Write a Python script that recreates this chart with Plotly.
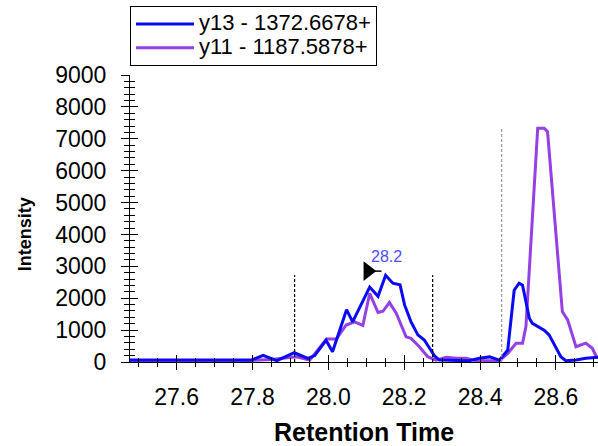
import plotly.graph_objects as go

# ---- data ----
y13_rt = [27.477, 27.52, 27.56, 27.60, 27.64, 27.68, 27.72, 27.76, 27.797, 27.828, 27.864, 27.910,
          27.946, 27.964, 27.994, 28.011, 28.048, 28.064, 28.109, 28.131, 28.151, 28.170, 28.189,
          28.201, 28.218, 28.236, 28.253, 28.267, 28.280, 28.293, 28.319, 28.346, 28.372, 28.398,
          28.425, 28.451, 28.473, 28.490, 28.503, 28.512, 28.530, 28.538, 28.569, 28.582, 28.613,
          28.626, 28.653, 28.679, 28.705, 28.711]
y13_int = [60, 60, 60, 60, 60, 60, 60, 60, 60, 210, 40, 290,
           110, 200, 680, 320, 1640, 1260, 2350, 2060, 2720, 2470, 2420,
           1790, 1260, 850, 690, 430, 190, 60, 50, 40, 40, 115,
           160, 60, 375, 2250, 2470, 2410, 1370, 1210, 1000, 850, 165,
           40, 60, 115, 150, 150]

y11_rt = [27.477, 27.60, 27.70, 27.80, 27.85, 27.916, 27.951, 27.995, 28.021, 28.047, 28.069,
          28.091, 28.109, 28.131, 28.144, 28.161, 28.179, 28.205, 28.218, 28.240, 28.262,
          28.284, 28.311, 28.337, 28.363, 28.389, 28.424, 28.451, 28.473, 28.495, 28.512,
          28.521, 28.552, 28.569, 28.578, 28.617, 28.631, 28.653, 28.679, 28.696, 28.707]
y11_int = [20, 20, 30, 50, 80, 165, 60, 720, 720, 1160, 1260,
           1150, 2150, 1550, 1590, 1870, 1530, 790, 740, 480, 165,
           60, 150, 115, 120, 40, 50, 40, 270, 590, 590,
           1110, 7330, 7330, 7220, 1580, 1320, 480, 590, 430, 165]

series_names = ["y13 - 1372.6678+", "y11 - 1187.5878+"]

boundary_rt = [27.911, 28.275]
boundary_top = 2730
other_boundary_rt = 28.457
other_boundary_top = 7330

peak_label = "28.2"
peak_label_rt = 28.154
peak_label_int = 3320
marker_rt = [28.104, 28.140]
marker_int = 2850

x_range = [27.477, 28.711]
y_range = [0, 9000]

FONT = "Liberation Sans, Arial, sans-serif"
BLUE = "#0a0af5"
PURPLE = "#9440e4"


def legend_label(name):
    return "<span style='font-size:22px'>" + name + "</span>"


fig = go.Figure()

fig.add_trace(go.Scatter(x=y11_rt, y=y11_int, mode="lines", name=legend_label(series_names[1]),
                         line=dict(color=PURPLE, width=3)))
fig.add_trace(go.Scatter(x=y13_rt, y=y13_int, mode="lines", name=legend_label(series_names[0]),
                         line=dict(color=BLUE, width=3)))

for rt in boundary_rt:
    fig.add_trace(go.Scatter(x=[rt, rt], y=[0, boundary_top], mode="lines", showlegend=False,
                             line=dict(color="black", width=1.2, dash="3px,2px"), hoverinfo="skip"))
fig.add_trace(go.Scatter(x=[other_boundary_rt, other_boundary_rt], y=[0, other_boundary_top],
                         mode="lines", showlegend=False,
                         line=dict(color="#999999", width=1.2, dash="3px,2px"), hoverinfo="skip"))

# peak marker (flag)
fig.add_trace(go.Scatter(x=marker_rt, y=[marker_int, marker_int], mode="lines", showlegend=False,
                         line=dict(color="black", width=1.5), hoverinfo="skip"))
fig.add_trace(go.Scatter(x=[marker_rt[0]], y=[marker_int], mode="markers", showlegend=False,
                         marker=dict(symbol="triangle-right", size=17, color="black"),
                         hoverinfo="skip"))

# overlay axes give the crossing tick marks
fig.add_trace(go.Scatter(x=[x_range[0]], y=[y_range[0]], xaxis="x2", yaxis="y2", mode="markers",
                         marker=dict(opacity=0), showlegend=False, hoverinfo="skip"))

fig.add_annotation(x=peak_label_rt, y=peak_label_int, text=peak_label, showarrow=False,
                   font=dict(family=FONT, size=16, color="#4b4bff"))

fig.add_annotation(xref="paper", yref="paper", x=-0.224, y=0.446, xanchor="center",
                   yanchor="middle", text="<b>Intensity</b>",
                   textangle=-90, showarrow=False, font=dict(family=FONT, size=18, color="black"))
fig.add_annotation(xref="paper", yref="paper", x=0.5, y=-0.244, xanchor="center",
                   yanchor="middle", text="<b>Retention Time</b>",
                   showarrow=False, font=dict(family=FONT, size=25, color="black"))

tickfont = dict(family=FONT, size=23, color="black")

fig.update_layout(
    width=598, height=446,
    margin=dict(l=130, r=0, t=75, b=84),
    plot_bgcolor="white", paper_bgcolor="white",
    showlegend=True,
    legend=dict(x=0, y=1.24, xanchor="left", yanchor="top", bordercolor="black", borderwidth=1,
                bgcolor="white", font=dict(family=FONT, size=16, color="black"),
                traceorder="reversed", tracegroupgap=0, itemwidth=58),
    xaxis=dict(range=x_range, showgrid=False, zeroline=False, showline=True, linecolor="black",
               linewidth=1, ticks="outside", ticklen=7, tickcolor="black", tickwidth=1,
               dtick=0.2, tick0=0, tickformat=".1f", tickfont=tickfont, ticklabelstandoff=7,
               minor=dict(ticks="outside", ticklen=4, dtick=0.05, tick0=0, tickcolor="black",
                          showgrid=False)),
    yaxis=dict(range=y_range, showgrid=False, zeroline=False, showline=True, linecolor="black",
               linewidth=1, ticks="outside", ticklen=8, tickcolor="black", tickwidth=1,
               dtick=1000, tick0=0, tickfont=tickfont, ticklabelstandoff=10,
               minor=dict(ticks="outside", ticklen=5, dtick=200, tick0=0, tickcolor="black",
                          showgrid=False)),
    xaxis2=dict(range=x_range, overlaying="x", anchor="y", showgrid=False, zeroline=False,
                showline=False, ticks="inside", ticklen=7, tickcolor="black", dtick=0.2, tick0=0,
                showticklabels=False,
                minor=dict(ticks="inside", ticklen=4, dtick=0.05, tick0=0, tickcolor="black",
                           showgrid=False)),
    yaxis2=dict(range=y_range, overlaying="y", anchor="x", showgrid=False, zeroline=False,
                showline=False, ticks="inside", ticklen=8, tickcolor="black", dtick=1000, tick0=0,
                showticklabels=False,
                minor=dict(ticks="inside", ticklen=5, dtick=200, tick0=0, tickcolor="black",
                           showgrid=False)),
)

fig.write_html("out.html", config={"displayModeBar": False},
               post_script="document.body.style.margin='0px';")
